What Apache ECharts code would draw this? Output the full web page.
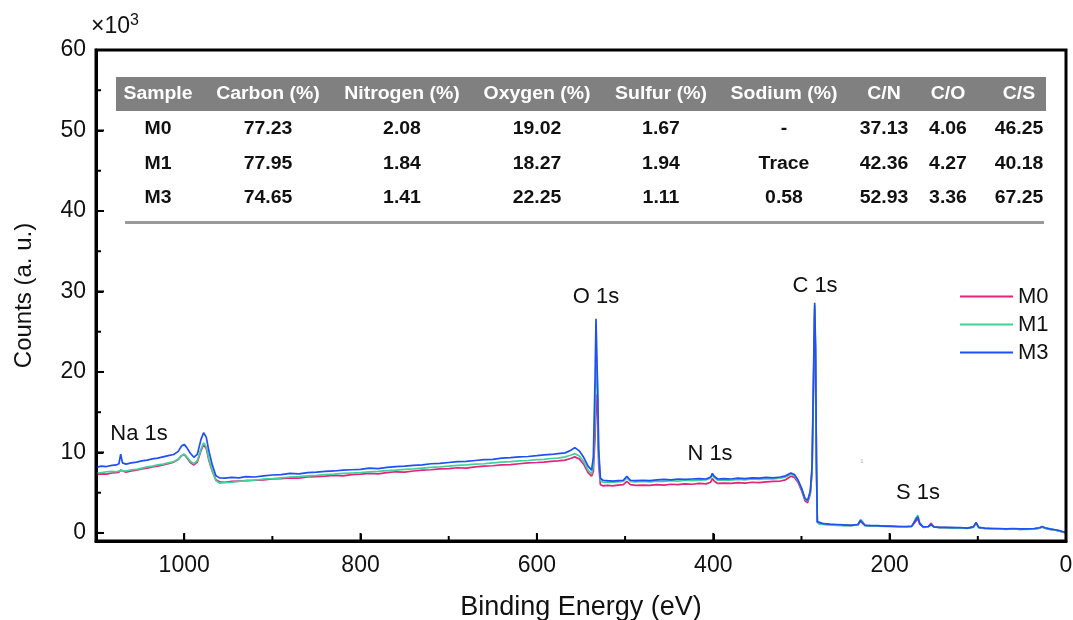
<!DOCTYPE html>
<html>
<head>
<meta charset="utf-8">
<script src="https://cdn.jsdelivr.net/npm/echarts@6/dist/echarts.min.js"></script>
<style>
html,body{margin:0;padding:0;background:#fff}
#chart{width:1073px;height:620px}
</style>
</head>
<body>
<div id="chart"></div>
<script>
// XPS survey spectra: binding energy (eV) and counts (x10^3)
const energy = [1100,1094,1088,1082,1077,1074,1072,1070,1066,1060,1054,1048,1042,1036,1030,1024,1018,1012,1007,1003,1000,997,993,989,985,981,978,975,972,968,964,960,954,946,938,930,920,910,900,890,880,870,860,850,840,830,820,810,800,790,780,770,760,750,740,730,720,710,700,690,680,670,660,650,640,630,620,610,600,592,584,576,568,562,557,552,547,542,538,536,534,533,532,531,530,528,525,520,514,508,502,498,494,488,480,472,464,456,448,440,432,424,416,408,403,401,399,395,388,380,372,364,356,348,340,332,324,318,312,308,304,300,296,293,290,288,286,285,284,283,282,280,275,268,260,252,244,236,233,231,228,222,214,206,198,190,182,175,170,168,166,162,156,153,150,144,136,128,120,112,105,102,99,92,84,76,68,60,52,44,36,30,27,24,18,12,6,0];
const m0 = [7.25,7.35,7.3,7.45,7.5,7.55,7.8,7.6,7.55,7.7,7.8,7.95,8.05,8.2,8.3,8.45,8.6,8.8,9.1,9.6,9.75,9.35,8.75,8.45,8.8,10.2,11.0,10.5,9.0,7.6,6.6,6.35,6.3,6.4,6.45,6.5,6.55,6.6,6.7,6.75,6.85,6.8,6.95,7.0,7.05,7.15,7.1,7.25,7.3,7.4,7.35,7.5,7.6,7.55,7.7,7.8,7.85,7.95,8.0,8.1,8.05,8.2,8.3,8.35,8.45,8.5,8.6,8.7,8.75,8.8,8.9,8.95,9.05,9.25,9.45,9.2,8.55,7.5,7.05,7.6,12.0,16.5,17.2,13.5,8.5,6.0,5.85,5.9,5.85,5.95,6.0,6.4,6.0,5.9,5.95,5.9,6.0,5.95,6.05,6.0,6.1,6.05,6.15,6.1,6.3,6.75,6.45,6.15,6.2,6.15,6.25,6.2,6.3,6.25,6.35,6.4,6.45,6.6,7.05,6.9,6.3,5.3,4.0,3.75,4.8,7.5,20.0,27.8,22.0,8.0,1.3,1.15,1.1,1.05,1.0,0.95,0.95,1.0,1.45,1.3,0.95,0.9,0.85,0.85,0.8,0.8,0.75,0.8,1.5,1.8,1.1,0.75,0.8,1.2,0.8,0.7,0.65,0.65,0.6,0.6,0.75,1.25,0.7,0.55,0.55,0.5,0.5,0.5,0.45,0.5,0.5,0.6,0.75,0.6,0.45,0.35,0.2,0.0];
const m1 = [7.45,7.5,7.6,7.65,7.6,7.7,7.9,7.75,7.7,7.85,7.9,8.05,8.2,8.3,8.45,8.55,8.7,8.85,9.15,9.6,9.8,9.45,8.9,8.6,9.0,10.4,11.2,10.7,9.2,7.7,6.5,6.2,6.25,6.3,6.4,6.5,6.55,6.7,6.75,6.85,6.95,7.0,7.1,7.15,7.25,7.3,7.4,7.45,7.5,7.6,7.65,7.75,7.8,7.9,7.95,8.05,8.15,8.2,8.3,8.4,8.45,8.55,8.6,8.7,8.8,8.85,8.95,9.0,9.1,9.15,9.25,9.3,9.45,9.65,9.85,9.55,8.9,7.8,7.35,8.3,15.0,20.3,20.8,16.5,9.5,6.5,6.3,6.35,6.3,6.35,6.4,6.85,6.4,6.35,6.4,6.35,6.45,6.4,6.5,6.45,6.55,6.5,6.55,6.6,6.8,7.2,6.9,6.55,6.6,6.55,6.65,6.6,6.7,6.65,6.75,6.7,6.8,6.95,7.3,7.1,6.5,5.5,4.2,3.95,5.0,7.8,21.0,28.3,22.5,8.5,1.35,1.1,1.05,1.0,0.95,0.9,0.9,1.0,1.7,1.45,0.95,0.85,0.85,0.8,0.8,0.75,0.75,0.8,1.9,2.2,1.3,0.7,0.75,1.0,0.75,0.65,0.65,0.6,0.6,0.55,0.7,1.2,0.65,0.55,0.5,0.5,0.45,0.5,0.45,0.45,0.5,0.6,0.75,0.6,0.45,0.35,0.2,0.0];
const m3 = [8.15,8.3,8.25,8.4,8.45,8.6,9.8,8.7,8.55,8.7,8.8,8.95,9.05,9.2,9.3,9.45,9.6,9.75,10.1,10.8,11.0,10.6,9.9,9.4,9.8,11.6,12.45,11.9,10.2,8.4,7.1,6.85,6.8,6.9,6.85,7.0,6.95,7.1,7.2,7.25,7.4,7.35,7.5,7.55,7.65,7.7,7.8,7.85,7.9,8.05,8.0,8.15,8.25,8.3,8.4,8.45,8.6,8.65,8.75,8.85,8.9,9.0,9.1,9.15,9.3,9.35,9.45,9.5,9.6,9.7,9.75,9.85,9.95,10.25,10.6,10.2,9.4,8.3,7.8,9.4,19.5,26.6,26.8,17.5,10.5,6.8,6.55,6.5,6.45,6.5,6.55,7.05,6.55,6.5,6.55,6.5,6.6,6.65,6.6,6.7,6.65,6.7,6.75,6.7,6.95,7.4,7.05,6.7,6.75,6.7,6.8,6.75,6.85,6.8,6.9,6.85,6.95,7.1,7.45,7.25,6.6,5.6,4.3,4.05,5.2,8.2,22.0,28.6,23.0,9.0,1.4,1.2,1.15,1.1,1.05,1.0,0.95,1.05,1.55,1.35,0.95,0.9,0.9,0.85,0.85,0.8,0.8,0.85,1.7,2.0,1.2,0.75,0.8,1.05,0.75,0.7,0.7,0.65,0.65,0.6,0.75,1.3,0.7,0.6,0.55,0.55,0.5,0.55,0.5,0.5,0.55,0.65,0.8,0.65,0.5,0.4,0.25,0.05];

const seriesNames = ['M0', 'M1', 'M3'];
const seriesColors = ['#e8217c', '#3fd39a', '#1f4ff5'];

// axis ticks
const xMajorTicks = [0, 200, 400, 600, 800, 1000];
const xMinorTicks = [100, 300, 500, 700, 900];
const yMajorTicks = [0, 10, 20, 30, 40, 50, 60];
const yMinorTicks = [5, 15, 25, 35, 45, 55];

// peak annotations
const peakLabels = ['Na 1s', 'O 1s', 'N 1s', 'C 1s', 'S 1s'];

// composition table
const tableHeader = ['Sample', 'Carbon (%)', 'Nitrogen (%)', 'Oxygen (%)', 'Sulfur (%)', 'Sodium (%)', 'C/N', 'C/O', 'C/S'];
const sampleNames = ['M0', 'M1', 'M3'];
const carbon = ['77.23', '77.95', '74.65'];
const nitrogen = ['2.08', '1.84', '1.41'];
const oxygen = ['19.02', '18.27', '22.25'];
const sulfur = ['1.67', '1.94', '1.11'];
const sodium = ['-', 'Trace', '0.58'];
const ratioCN = ['37.13', '42.36', '52.93'];
const ratioCO = ['4.06', '4.27', '3.36'];
const ratioCS = ['46.25', '40.18', '67.25'];

const FONT = '"Liberation Sans", Arial, Helvetica, sans-serif';
const chart = echarts.init(document.getElementById('chart'));

// table layout
const colX = [158, 268, 402, 537, 661, 784, 884, 948, 1019];
const rowY = [129, 164, 198];
const tableColumns = [sampleNames, carbon, nitrogen, oxygen, sulfur, sodium, ratioCN, ratioCO, ratioCS];

const graphics = [];
graphics.push({ type: 'rect', shape: { x: 116, y: 77, width: 930, height: 34 }, style: { fill: '#808080' }, silent: true });
tableHeader.forEach((h, i) => {
  graphics.push({ type: 'text', x: colX[i], y: 94, scaleX: 1.08, style: { text: h, fill: '#ffffff', font: 'bold 18px ' + FONT, align: 'center', verticalAlign: 'middle' }, silent: true });
});
tableColumns.forEach((col, i) => {
  col.forEach((v, r) => {
    graphics.push({ type: 'text', x: colX[i], y: rowY[r], scaleX: 1.08, style: { text: v, fill: '#111', font: 'bold 18px ' + FONT, align: 'center', verticalAlign: 'middle' }, silent: true });
  });
});
graphics.push({ type: 'line', shape: { x1: 125, y1: 222.5, x2: 1044, y2: 222.5 }, style: { stroke: '#9a9a9a', lineWidth: 3 }, silent: true });

// axis multiplier
graphics.push({ type: 'text', x: 91, y: 38, style: { text: '\u00d710', fill: '#111', font: '23px ' + FONT, align: 'left', verticalAlign: 'bottom' }, silent: true });
graphics.push({ type: 'text', x: 130, y: 13, style: { text: '3', fill: '#111', font: '16px ' + FONT, align: 'left', verticalAlign: 'top' }, silent: true });

// peak labels
const peakPos = [[139, 434], [596, 297], [710, 454], [815, 286], [918, 493]];
peakLabels.forEach((t, i) => {
  graphics.push({ type: 'text', x: peakPos[i][0], y: peakPos[i][1], style: { text: t, fill: '#111', font: '22px ' + FONT, align: 'center', verticalAlign: 'middle' }, silent: true });
});
graphics.push({ type: 'text', x: 862, y: 461, style: { text: '1', fill: '#aaa', font: '6px ' + FONT, align: 'center', verticalAlign: 'middle' }, silent: true });

const datasets = [m0, m1, m3];
const series = datasets.map((vals, k) => ({
  name: seriesNames[k],
  type: 'line',
  data: energy.map((e, i) => [e, vals[i]]),
  showSymbol: false,
  symbol: 'none',
  lineStyle: { width: 1.7, color: seriesColors[k] },
  itemStyle: { color: seriesColors[k] },
  animation: false,
  z: 2 + k
}));

const plain = v => String(v);

chart.setOption({
  animation: false,
  backgroundColor: '#ffffff',
  textStyle: { fontFamily: FONT },
  grid: { left: 96, right: 7, top: 50, bottom: 79, show: false, outerBoundsMode: 'none', containLabel: false },
  legend: {
    data: seriesNames.map(n => ({ name: n, icon: 'rect' })),
    orient: 'vertical',
    left: 955,
    top: 280,
    itemWidth: 53,
    itemHeight: 2,
    itemGap: 5,
    textStyle: { fontSize: 22, color: '#111', fontFamily: FONT, lineHeight: 23 }
  },
  xAxis: {
    type: 'value', min: 0, max: 1100, inverse: true, position: 'bottom',
    name: 'Binding Energy (eV)', nameLocation: 'middle', nameGap: 53,
    nameTextStyle: { fontSize: 27, color: '#111', fontFamily: FONT },
    axisLine: { show: true, onZero: false, lineStyle: { color: '#000', width: 3 } },
    axisTick: { show: true, inside: true, length: 7, lineStyle: { color: '#000', width: 2 }, customValues: xMajorTicks },
    axisLabel: { show: true, margin: 13, fontSize: 23, color: '#111', fontFamily: FONT, customValues: xMajorTicks, formatter: plain },
    splitLine: { show: false }
  },
  yAxis: {
    type: 'value', min: -1, max: 60, position: 'left',
    name: 'Counts (a. u.)', nameLocation: 'middle', nameGap: 60,
    nameTextStyle: { fontSize: 24, color: '#111', fontFamily: FONT },
    axisLine: { show: true, onZero: false, lineStyle: { color: '#000', width: 3 } },
    axisTick: { show: true, inside: true, length: 7, lineStyle: { color: '#000', width: 2 }, customValues: yMajorTicks },
    axisLabel: { show: true, margin: 10, fontSize: 23, color: '#111', fontFamily: FONT, customValues: yMajorTicks, formatter: plain },
    splitLine: { show: false }
  },
  series: series,
  graphic: graphics
});

// plot frame and tick marks, placed through the grid and axis scales
const gridRect = chart.getModel().getComponent('grid', 0).coordinateSystem.getRect();
const extras = [];
extras.push({ type: 'rect', shape: { x: gridRect.x, y: gridRect.y, width: gridRect.width, height: gridRect.height }, style: { fill: 'none', stroke: '#000', lineWidth: 3 }, silent: true, z: 9 });
const addXTick = (v, len) => {
  const px = chart.convertToPixel({ xAxisIndex: 0 }, v);
  const y0 = gridRect.y + gridRect.height;
  extras.push({ type: 'line', shape: { x1: px, y1: y0, x2: px, y2: y0 - len }, style: { stroke: '#000', lineWidth: 2 }, silent: true, z: 10 });
};
const addYTick = (v, len) => {
  const py = chart.convertToPixel({ yAxisIndex: 0 }, v);
  const x0 = gridRect.x;
  extras.push({ type: 'line', shape: { x1: x0, y1: py, x2: x0 + len, y2: py }, style: { stroke: '#000', lineWidth: 2 }, silent: true, z: 10 });
};
xMajorTicks.forEach(v => addXTick(v, 8));
xMinorTicks.forEach(v => addXTick(v, 5));
yMajorTicks.forEach(v => addYTick(v, 8));
yMinorTicks.forEach(v => addYTick(v, 5));
chart.setOption({ graphic: graphics.concat(extras) });
</script>
</body>
</html>
